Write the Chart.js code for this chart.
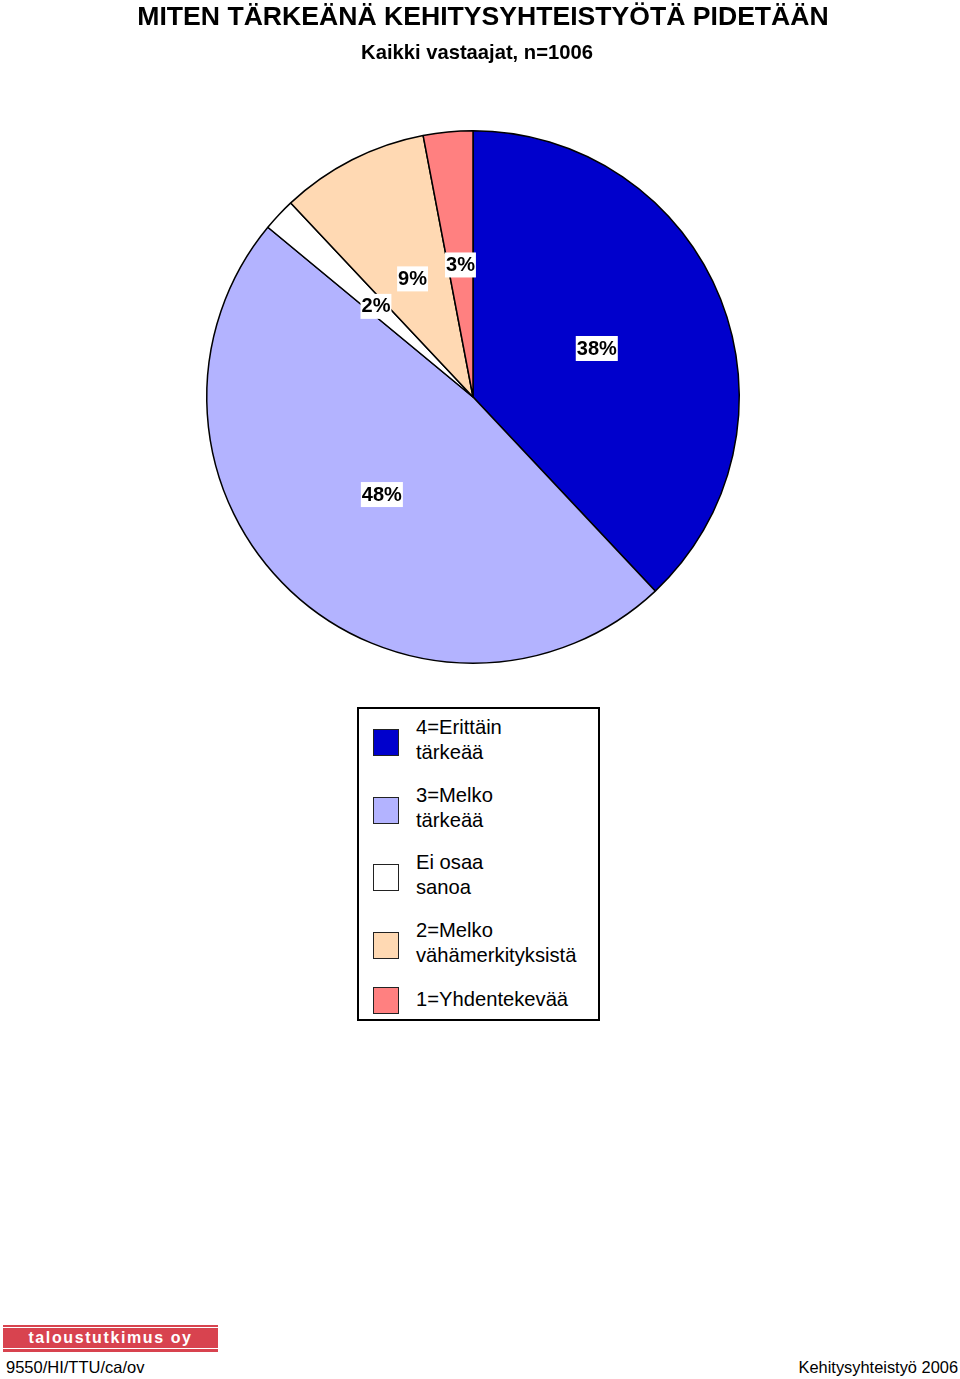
<!DOCTYPE html>
<html>
<head>
<meta charset="utf-8">
<script src="https://cdn.jsdelivr.net/npm/chart.js@4"></script>
<style>
body { margin: 0; background: #fff; font-family: Arial, "Liberation Sans", sans-serif; }
#page { position: relative; width: 960px; height: 1379px; overflow: hidden; }
#title { position: absolute; top: 1px; left: 0; width: 966px; text-align: center; font-weight: bold; font-size: 26.6px; }
#subtitle { position: absolute; top: 41px; left: 0; width: 954px; text-align: center; font-weight: bold; font-size: 20.2px; }
#myChart { position: absolute; left: 0; top: 0; }
#legend { position: absolute; left: 357px; top: 707px; width: 239px; height: 310px; border: 2px solid #000; }
.item { position: absolute; left: 14px; }
.sw { position: absolute; left: 0; width: 24px; height: 25px; border: 1px solid #222; }
.lbl { position: absolute; left: 43px; font-size: 20.2px; line-height: 25px; white-space: nowrap; }
#logo { position: absolute; left: 3px; top: 1325px; width: 215px; height: 27px; background: #d8434f; }
#logo .l1 { position: absolute; left: 0; right: 0; top: 2px; height: 1px; background: #fff; }
#logo .l2 { position: absolute; left: 0; right: 0; top: 23px; height: 1px; background: #fff; }
#logo .t { position: absolute; left: 0; right: 0; top: 4px; text-align: center; color: #fff; font-weight: bold; font-size: 16px; letter-spacing: 1.6px; }
#foot1 { position: absolute; left: 6px; top: 1358px; font-size: 16.5px; }
#foot2 { position: absolute; right: 2px; top: 1358px; font-size: 16.4px; }
</style>
</head>
<body>
<div id="page">
  <canvas id="myChart" width="960" height="680"></canvas>
  <div id="title">MITEN TÄRKEÄNÄ KEHITYSYHTEISTYÖTÄ PIDETÄÄN</div>
  <div id="subtitle">Kaikki vastaajat, n=1006</div>
  <div id="legend"></div>
  <div id="logo"><div class="l1"></div><div class="l2"></div><div class="t">taloustutkimus oy</div></div>
  <div id="foot1">9550/HI/TTU/ca/ov</div>
  <div id="foot2">Kehitysyhteistyö 2006</div>
</div>
<script>
// data
const categories = ['4=Erittäin tärkeää', '3=Melko tärkeää', 'Ei osaa sanoa', '2=Melko vähämerkityksistä', '1=Yhdentekevää'];
const legendLines = [['4=Erittäin', 'tärkeää'], ['3=Melko', 'tärkeää'], ['Ei osaa', 'sanoa'], ['2=Melko', 'vähämerkityksistä'], ['1=Yhdentekevää']];
const values = [38, 48, 2, 9, 3];
const colors = ['#0000cc', '#b3b3ff', '#ffffff', '#ffd9b3', '#ff8080'];

// legend (html)
const legendTops = [20, 88, 155, 223, 278];
const legendEl = document.getElementById('legend');
for (let i = 0; i < categories.length; i++) {
    const item = document.createElement('div');
    item.className = 'item';
    item.style.top = legendTops[i] + 'px';
    item.innerHTML = `<div class="sw" style="top:0px;background:${colors[i]}"></div>
                      <div class="lbl" style="top:${legendLines[i].length > 1 ? -14 : 0}px">${legendLines[i].join('<br>')}</div>`;
    legendEl.appendChild(item);
}

// percent labels with white box
const pctLabels = {
    id: 'pctLabels',
    afterDatasetsDraw(chart) {
        const ctx = chart.ctx;
        const meta = chart.getDatasetMeta(0);
        ctx.save();
        ctx.font = 'bold 20px Arial, "Liberation Sans", sans-serif';
        ctx.textAlign = 'center';
        ctx.textBaseline = 'middle';
        meta.data.forEach((arc, i) => {
            const p = arc.tooltipPosition();
            const txt = values[i] + '%';
            const w = ctx.measureText(txt).width;
            ctx.fillStyle = '#fff';
            ctx.fillRect(p.x - w / 2 - 1, p.y - 12, w + 2, 25);
            ctx.fillStyle = '#000';
            ctx.fillText(txt, p.x, p.y + 1);
        });
        ctx.restore();
    }
};

new Chart(document.getElementById('myChart'), {
    type: 'pie',
    data: {
        labels: categories,
        datasets: [{
            data: values,
            backgroundColor: colors,
            borderColor: '#000',
            borderWidth: 1.5
        }]
    },
    options: {
        responsive: false,
        animation: false,
        layout: { padding: { left: 206, right: 220, top: 130, bottom: 16 } },
        plugins: {
            legend: { display: false },
            tooltip: { enabled: false }
        }
    },
    plugins: [pctLabels]
});
</script>
</body>
</html>
